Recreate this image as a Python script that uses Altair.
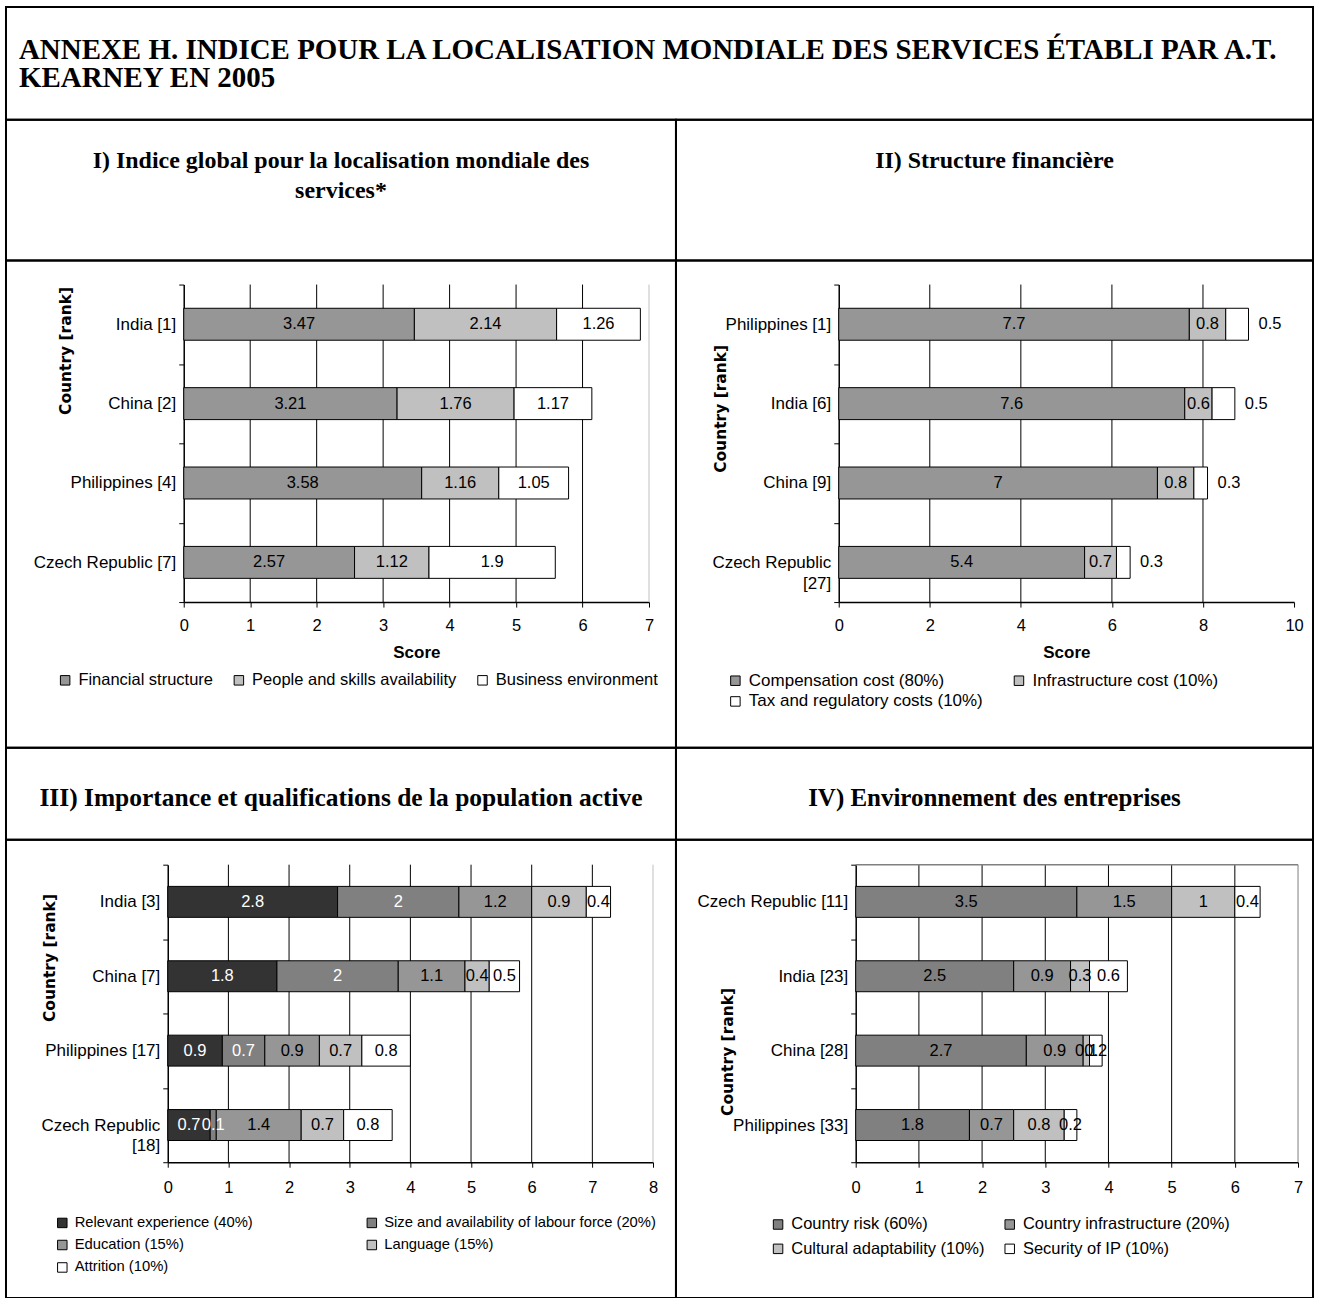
import altair as alt
import pandas as pd

SANS = "Liberation Sans, Arial, sans-serif"
SERIF = "Liberation Serif, Times New Roman, serif"

# ---------------- texts ----------------
MAIN_TITLE = "ANNEXE H. INDICE POUR LA LOCALISATION MONDIALE DES SERVICES ÉTABLI PAR A.T.\nKEARNEY EN 2005"
HEAD_I = "I) Indice global pour la localisation mondiale des\nservices*"
HEAD_II = "II) Structure financière"
HEAD_III = "III) Importance et qualifications de la population active"
HEAD_IV = "IV) Environnement des entreprises"
Y_TITLE = "Country [rank]"

# ---------------- Panel I ----------------
p1_countries = ["India [1]", "China [2]", "Philippines [4]", "Czech Republic [7]"]
p1_series = ["Financial structure", "People and skills availability", "Business environment"]
p1_financial = [3.47, 3.21, 3.58, 2.57]
p1_people = [2.14, 1.76, 1.16, 1.12]
p1_business = [1.26, 1.17, 1.05, 1.9]
p1_colors = ["#969696", "#c0c0c0", "#ffffff"]
p1_text = ["#000000", "#000000", "#000000"]
p1_ticks = [0, 1, 2, 3, 4, 5, 6, 7]

# ---------------- Panel II ----------------
p2_countries = ["Philippines [1]", "India [6]", "China [9]", "Czech Republic\n[27]"]
p2_series = ["Compensation cost (80%)", "Infrastructure cost (10%)", "Tax and regulatory costs (10%)"]
p2_compensation = [7.7, 7.6, 7.0, 5.4]
p2_infrastructure = [0.8, 0.6, 0.8, 0.7]
p2_tax = [0.5, 0.5, 0.3, 0.3]
p2_colors = ["#969696", "#c0c0c0", "#ffffff"]
p2_text = ["#000000", "#000000", "#000000"]
p2_ticks = [0, 2, 4, 6, 8, 10]

# ---------------- Panel III ----------------
p3_countries = ["India [3]", "China [7]", "Philippines [17]", "Czech Republic\n[18]"]
p3_series = ["Relevant experience (40%)", "Size and availability of labour force (20%)",
             "Education (15%)", "Language (15%)", "Attrition (10%)"]
p3_experience = [2.8, 1.8, 0.9, 0.7]
p3_size = [2.0, 2.0, 0.7, 0.1]
p3_education = [1.2, 1.1, 0.9, 1.4]
p3_language = [0.9, 0.4, 0.7, 0.7]
p3_attrition = [0.4, 0.5, 0.8, 0.8]
p3_colors = ["#333333", "#808080", "#969696", "#c0c0c0", "#ffffff"]
p3_text = ["#ffffff", "#ffffff", "#000000", "#000000", "#000000"]
p3_ticks = [0, 1, 2, 3, 4, 5, 6, 7, 8]

# ---------------- Panel IV ----------------
p4_countries = ["Czech Republic [11]", "India [23]", "China [28]", "Philippines [33]"]
p4_series = ["Country risk (60%)", "Country infrastructure (20%)",
             "Cultural adaptability (10%)", "Security of IP (10%)"]
p4_risk = [3.5, 2.5, 2.7, 1.8]
p4_infrastructure = [1.5, 0.9, 0.9, 0.7]
p4_cultural = [1.0, 0.3, 0.1, 0.8]
p4_security = [0.4, 0.6, 0.2, 0.2]
p4_colors = ["#808080", "#969696", "#c0c0c0", "#ffffff"]
p4_text = ["#000000", "#000000", "#000000", "#000000"]
p4_ticks = [0, 1, 2, 3, 4, 5, 6, 7]

# ---------------- layout (pixels) ----------------
LEFT_W, RIGHT_W = 671, 638
H_TITLE, H_HEAD1, H_ROW1, H_HEAD2, H_ROW2 = 113, 141, 488, 92, 459


def stacked_frame(countries, series, values, text_colors, outside_last):
    rows = []
    for ci, c in enumerate(countries):
        cum = 0.0
        for si, s in enumerate(series):
            v = values[si][ci]
            rows.append({
                "country": c, "series": s, "start": cum, "end": cum + v,
                "mid": cum + v / 2, "label": f"{v:g}", "tcolor": text_colors[si],
                "outside": bool(outside_last and si == len(series) - 1),
            })
            cum += v
    return pd.DataFrame(rows)


def panel(countries, series, values, colors, text_colors, ticks, xr, yr, bar_size,
          w, h, legend_kw, x_title, last_grid, title_x, title_y, label_pad, label_size=16.5,
          outside_last=False, gray_frame=False):
    df = stacked_frame(countries, series, values, text_colors, outside_last)
    df_in = df[~df["outside"]]
    df_out = df[df["outside"]]
    xmax = ticks[-1]
    grid_df = pd.DataFrame({
        "g": ticks[1:],
        "gc": ["#000000"] * (len(ticks) - 2) + [last_grid],
    })
    xscale = alt.Scale(domain=[0, xmax], range=list(xr), nice=False, zero=False)
    xaxis = alt.Axis(
        values=ticks, offset=-(h - yr[1]), grid=False,
        domainColor="#000000", domainWidth=1.5, tickColor="#000000", tickSize=5,
        labelFont=SANS, labelFontSize=16.5, labelColor="#000000", labelPadding=label_pad,
        labelFlush=False, titleFont=SANS, titleFontSize=17, titleFontWeight="bold",
        titleColor="#000000", titlePadding=11,
    )
    yaxis = alt.Axis(
        offset=-xr[0], tickBand="extent", domainColor="#000000", domainWidth=1.5,
        tickColor="#000000", tickSize=5, labelFont=SANS, labelFontSize=17, labelColor="#000000",
        labelPadding=3, labelExpr="split(datum.label, '\\n')", labelLineHeight=21, labelLimit=300,
        titleFont="DejaVu Sans", titleFontSize=15.5, titleFontWeight="bold", titleColor="#000000",
        titleX=title_x, titleY=title_y, titleAngle=270, titleAlign="center", titleBaseline="middle",
    )
    yscale = alt.Scale(domain=countries, range=list(yr), paddingInner=0, paddingOuter=0)
    y_enc = alt.Y("country:N", scale=yscale, axis=yaxis, title=Y_TITLE)

    def xenc(field):
        if x_title:
            return alt.X(f"{field}:Q", scale=xscale, axis=xaxis, title=x_title)
        return alt.X(f"{field}:Q", scale=xscale, axis=xaxis, title=None)

    gridlines = alt.Chart(grid_df).mark_rule(strokeWidth=1).encode(
        x=xenc("g"), y=alt.value(yr[0]), y2=alt.value(yr[1]),
        color=alt.Color("gc:N", scale=None),
    )
    bars = alt.Chart(df).mark_bar(size=bar_size, stroke="#000000", strokeWidth=1).encode(
        x=xenc("start"), x2="end:Q", y=y_enc,
        color=alt.Color("series:N", scale=alt.Scale(domain=series, range=colors),
                        legend=alt.Legend(**legend_kw)),
    )
    labels_in = alt.Chart(df_in).mark_text(
        font=SANS, fontSize=label_size, align="center", baseline="middle"
    ).encode(
        x=xenc("mid"), y=y_enc, text="label:N",
        color=alt.Color("tcolor:N", scale=None),
    )
    layers = [gridlines, bars, labels_in]
    if len(df_out):
        labels_out = alt.Chart(df_out).mark_text(
            font=SANS, fontSize=label_size, align="left", baseline="middle", dx=10, color="#000000"
        ).encode(x=xenc("end"), y=y_enc, text="label:N")
        layers.append(labels_out)
    if gray_frame:
        frame = alt.Chart(pd.DataFrame({"k": [0]})).mark_rule(color="#808080", strokeWidth=1.5).encode(
            x=alt.value(xr[0]), x2=alt.value(xr[1]), y=alt.value(yr[0])
        )
        layers.append(frame)
    return alt.layer(*layers).properties(width=w, height=h)


def legend(x, y, cols, font_size, col_pad, row_pad):
    return dict(
        orient="none", legendX=x, legendY=y, direction="horizontal", columns=cols, title=None,
        symbolType="square", symbolSize=90, symbolStrokeColor="#000000", symbolStrokeWidth=1,
        symbolOpacity=1, labelFont=SANS, labelFontSize=font_size, labelColor="#000000",
        columnPadding=col_pad, rowPadding=row_pad, labelOffset=5, labelLimit=500,
    )


def text_cell(text, w, h, x, y, align, size, line_h):
    return alt.Chart(pd.DataFrame({"t": [text]})).mark_text(
        font=SERIF, fontWeight="bold", fontSize=size, align=align, baseline="alphabetic",
        lineBreak="\n", lineHeight=line_h, color="#000000"
    ).encode(text="t:N", x=alt.value(x), y=alt.value(y)).properties(width=w, height=h)


title_cell = text_cell(MAIN_TITLE, LEFT_W + RIGHT_W, H_TITLE, 13, 52, "left", 29, 28)

head1a = text_cell(HEAD_I, LEFT_W, H_HEAD1, LEFT_W / 2, 48, "center", 24, 30)
head1b = text_cell(HEAD_II, RIGHT_W, H_HEAD1, RIGHT_W / 2, 48, "center", 24, 30)
head2a = text_cell(HEAD_III, LEFT_W, H_HEAD2, LEFT_W / 2, 58, "center", 25.5, 30)
head2b = text_cell(HEAD_IV, RIGHT_W, H_HEAD2, RIGHT_W / 2, 58, "center", 25, 30)

c1 = panel(p1_countries, p1_series, [p1_financial, p1_people, p1_business], p1_colors, p1_text,
           p1_ticks, xr=(178, 644), yr=(24, 342), bar_size=32, w=LEFT_W, h=H_ROW1,
           legend_kw=legend(51, 412, 3, 16.5, 17, 4), x_title="Score", last_grid="#c0c0c0",
           title_x=-118, title_y=90, label_pad=10)
c2 = panel(p2_countries, p2_series, [p2_compensation, p2_infrastructure, p2_tax], p2_colors, p2_text,
           p2_ticks, xr=(163, 619), yr=(24, 342), bar_size=32, w=RIGHT_W, h=H_ROW1,
           legend_kw=legend(51, 412, 2, 17, 27, 3), x_title="Score", last_grid="transparent",
           title_x=-118, title_y=148, label_pad=10, outside_last=True)
c3 = panel(p3_countries, p3_series,
           [p3_experience, p3_size, p3_education, p3_language, p3_attrition], p3_colors, p3_text,
           p3_ticks, xr=(162, 648), yr=(25, 323), bar_size=31, w=LEFT_W, h=H_ROW2,
           legend_kw=legend(49, 376, 2, 14.8, 111, 6.5), x_title=None, last_grid="#c0c0c0",
           title_x=-118, title_y=118, label_pad=12)
c4 = panel(p4_countries, p4_series, [p4_risk, p4_infrastructure, p4_cultural, p4_security],
           p4_colors, p4_text, p4_ticks, xr=(180, 623), yr=(25, 323), bar_size=31, w=RIGHT_W,
           h=H_ROW2, legend_kw=legend(94, 377, 2, 16.5, 16, 7.5), x_title=None, last_grid="#808080",
           title_x=-128, title_y=212, label_pad=12, gray_frame=True)

grid = alt.concat(head1a, head1b, c1, c2, head2a, head2b, c3, c4,
                  columns=2, spacing=0, bounds="flush").resolve_scale(
    x="independent", y="independent", color="independent")

chart = alt.vconcat(title_cell, grid, spacing=0, bounds="flush").resolve_scale(
    x="independent", y="independent", color="independent"
).properties(
    padding={"left": 5, "top": 5, "right": 5, "bottom": 0}, background="white"
).configure(font=SANS).configure_view(stroke="#000000", strokeWidth=2)

chart.save("out.html", embed_options={"renderer": "svg", "actions": False})
